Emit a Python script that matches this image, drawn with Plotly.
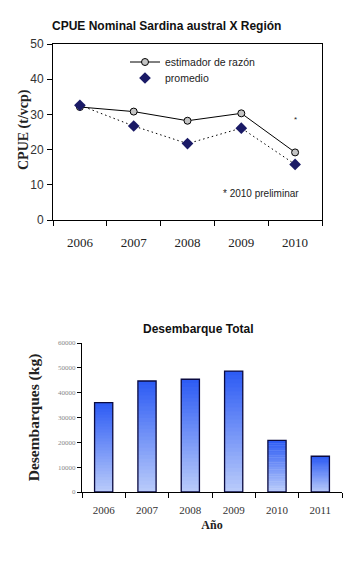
import plotly.graph_objects as go

years_cpue = ["2006", "2007", "2008", "2009", "2010"]
estimador = [32.1, 30.8, 28.2, 30.3, 19.2]
promedio = [32.6, 26.7, 21.7, 26.1, 15.8]

years_des = ["2006", "2007", "2008", "2009", "2010", "2011"]
desembarque = [36000, 44700, 45400, 48700, 20800, 14400]

W, H = 355, 564
fig = go.Figure()

fig.add_trace(go.Scatter(
    x=years_cpue, y=estimador, mode="lines+markers", name="estimador de razón",
    line=dict(color="black", width=1),
    marker=dict(symbol="circle", size=7, color="#c4c4c4", line=dict(color="black", width=1)),
    xaxis="x", yaxis="y", hoverinfo="x+y", legend="legend"))
fig.add_trace(go.Scatter(
    x=years_cpue, y=promedio, mode="lines", showlegend=False,
    line=dict(color="black", width=1, dash="1.5px,3px"),
    xaxis="x", yaxis="y", hoverinfo="skip"))
fig.add_trace(go.Scatter(
    x=years_cpue, y=promedio, mode="markers", name="promedio",
    marker=dict(symbol="diamond", size=9, color="#1a1a66", line=dict(color="#1a1a66", width=0)),
    xaxis="x", yaxis="y", hoverinfo="x+y", legend="legend2"))

# gradient bars built from stacked segments
N = 30
def lerp(c1, c2, t):
    return "rgb(%d,%d,%d)" % tuple(round(a + (b - a) * t) for a, b in zip(c1, c2))
light = (184, 202, 250)
dark = (46, 92, 244)
for k in range(N):
    fig.add_trace(go.Bar(
        x=years_des, y=[v / N * 1.2 for v in desembarque] if k < N - 1 else [v / N for v in desembarque],
        base=[v * k / N for v in desembarque],
        width=0.42, marker=dict(color=lerp(light, dark, k / (N - 1)), line=dict(width=0)),
        showlegend=False, hoverinfo="skip", xaxis="x2", yaxis="y2"))
fig.add_trace(go.Bar(
    x=years_des, y=desembarque, base=[0] * len(desembarque), width=0.42,
    marker=dict(color="rgba(0,0,0,0)", line=dict(color="#0a0a40", width=1.3)),
    showlegend=False, xaxis="x2", yaxis="y2"))

serif = "Liberation Serif"
sans = "Liberation Sans"
legfont = dict(family=sans, size=10.5, color="#222")

fig.update_layout(
    width=W, height=H, margin=dict(l=0, r=0, t=0, b=0, autoexpand=False),
    paper_bgcolor="white", plot_bgcolor="white", barmode="overlay",
    showlegend=True,
    legend=dict(x=125 / W, y=1 - 62 / H, xanchor="left", yanchor="middle",
                bgcolor="rgba(0,0,0,0)", font=legfont, itemwidth=30),
    legend2=dict(x=125 / W, y=1 - 78 / H, xanchor="left", yanchor="middle",
                 bgcolor="rgba(0,0,0,0)", font=legfont, itemwidth=30),
    xaxis=dict(domain=[53 / W, 322 / W], anchor="y", type="category", automargin=False,
               range=[-0.5, 4.5], tickangle=0, ticklabelstandoff=10,
               showline=True, linecolor="black", linewidth=1, mirror=True,
               ticks="outside", tickson="boundaries", ticklen=5, tickcolor="black",
               tickfont=dict(family=serif, size=13, color="#222"), showgrid=False),
    yaxis=dict(domain=[1 - 220 / H, 1 - 44 / H], anchor="x", range=[0, 50], dtick=10, automargin=False,
               ticklabelstandoff=1,
               showline=True, linecolor="black", linewidth=1, mirror=True,
               ticks="outside", ticklen=5, tickcolor="black", showgrid=False, zeroline=False,
               tickfont=dict(family=sans, size=12, color="#333")),
    xaxis2=dict(domain=[82 / W, 342 / W], anchor="y2", type="category", automargin=False,
                range=[-0.5, 5.5], tickangle=0, ticklabelstandoff=8,
                showline=True, linecolor="black", linewidth=1,
                ticks="outside", tickson="boundaries", ticklen=5, tickcolor="black",
                tickfont=dict(family=serif, size=11, color="#333"), showgrid=False,
                title=dict(text="<b>Año</b>", font=dict(family=serif, size=12, color="#222"), standoff=5)),
    yaxis2=dict(domain=[1 - 492 / H, 1 - 343 / H], anchor="x2", range=[0, 60000], dtick=10000,
                automargin=False, tickformat="d",
                showline=True, linecolor="black", linewidth=1,
                ticks="outside", ticklen=4, tickcolor="black", showgrid=False, zeroline=False,
                tickfont=dict(family=serif, size=7, color="#888"),
                title=dict(text="<b>Desembarques (kg)</b>", font=dict(family=serif, size=15.5, color="#222"), standoff=14)),
)

fig.add_annotation(text="<b>CPUE (t/vcp)</b>", xref="paper", yref="paper", textangle=-90,
                   x=24 / W, y=1 - 129 / H, xanchor="center", yanchor="middle", showarrow=False,
                   font=dict(family=serif, size=14, color="#222"))
fig.add_annotation(text="<b>CPUE Nominal Sardina austral X Región</b>", xref="paper", yref="paper",
                   x=166 / W, y=1 - 26 / H, xanchor="center", yanchor="middle", showarrow=False,
                   font=dict(family=sans, size=12, color="#111"))
fig.add_annotation(text="<b>Desembarque Total</b>", xref="paper", yref="paper",
                   x=198 / W, y=1 - 329 / H, xanchor="center", yanchor="middle", showarrow=False,
                   font=dict(family=sans, size=12, color="#111"))
fig.add_annotation(text="* 2010 preliminar", xref="paper", yref="paper",
                   x=261 / W, y=1 - 193 / H, xanchor="center", yanchor="middle", showarrow=False,
                   font=dict(family=sans, size=10, color="#222"))
fig.add_annotation(text="*", xref="x", yref="y", x=years_cpue.index("2010"), y=28.5, showarrow=False,
                   font=dict(family=sans, size=8, color="#222"))

fig.write_html("out.html", config={"displayModeBar": False})
with open("out.html", encoding="utf-8") as f:
    html = f.read()
html = html.replace("<body>", '<body style="margin:0;padding:0;overflow:hidden">', 1)
with open("out.html", "w", encoding="utf-8") as f:
    f.write(html)
